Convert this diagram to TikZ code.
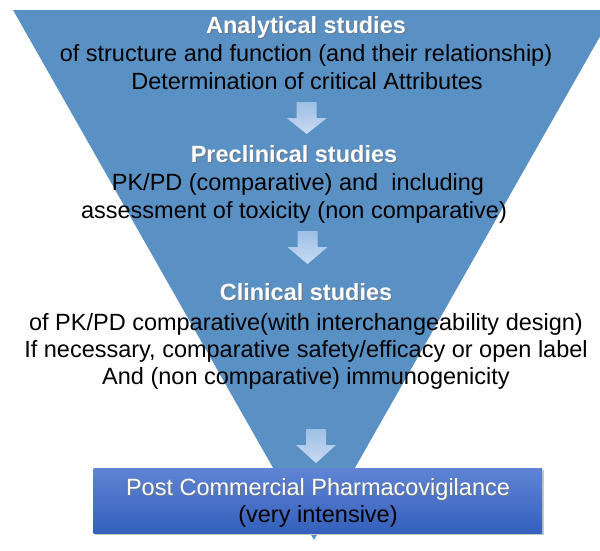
\documentclass[tikz,border=0pt]{standalone}
\usepackage{fontspec}
\setmainfont{Liberation Sans}
\usetikzlibrary{shadows}
\definecolor{funnelc}{RGB}{90,145,197}
\definecolor{arrtop}{RGB}{158,191,229}
\definecolor{arrbot}{RGB}{200,218,241}
\definecolor{boxtop}{RGB}{95,132,212}
\definecolor{boxbot}{RGB}{52,96,188}
\definecolor{shadowc}{RGB}{40,60,90}
\newcommand{\shtxt}[1]{\leavevmode\rlap{\raisebox{-1.2pt}{\hspace{1.2pt}\textcolor{shadowc!70}{#1}}}\textcolor{white}{#1}}
\tikzset{
  body/.style={anchor=base, inner sep=0pt, text=black, font=\fontsize{23.5}{28}\selectfont},
  head/.style={anchor=base, inner sep=0pt, font=\fontsize{23.5}{28}\selectfont\bfseries},
  boxtxt/.style={anchor=base, inner sep=0pt, font=\fontsize{23.5}{28}\selectfont},
}
\newcommand{\blockarrow}[3]{% center x, top y, tip y
  \shade[top color=arrtop, bottom color=arrbot]
    (#1-10,#2) -- (#1+10,#2) -- (#1+10,#2+16) -- (#1+20,#2+16) -- (#1,#3)
    -- (#1-20,#2+16) -- (#1-10,#2+16) -- cycle;}
\begin{document}
\begin{tikzpicture}[x=1pt,y=-1pt]
\useasboundingbox (0,0) rectangle (600,550);
\begin{scope}
\clip (0,0) rectangle (600,550);
% funnel
\fill[funnelc] (13,10) -- (615,10) -- (314,540) -- cycle;
\end{scope}
% arrows
\blockarrow{306.7}{102}{134}
\blockarrow{307.5}{231}{264}
\blockarrow{316}{429}{463}
% block 1
\node[head] (a1) at (306,33) {\shtxt{Analytical studies}};
\node[body] (a2) at (306,61) {of structure and function (and their relationship)};
\node[body] (a3) at (307,89) {Determination of critical Attributes};
% block 2
\node[head] (b1) at (294,162) {\shtxt{Preclinical studies}};
\node[body] (b2) at (298,190) {PK/PD (comparative) and\ \ including};
\node[body] (b3) at (294,218) {assessment of toxicity (non comparative)};
% block 3
\node[head] (c1) at (306,300) {\shtxt{Clinical studies}};
\node[body] (c2) at (306,330) {of PK/PD comparative(with interchangeability design)};
\node[body] (c3) at (306,357) {If necessary, comparative safety/efficacy or open label};
\node[body] (c4) at (306,384) {And (non comparative) immunogenicity};
% bottom box
\fill[black!22] (95,470) rectangle (544,535);
\shade[top color=boxtop, bottom color=boxbot] (93.5,468) rectangle (542,533);
\node[boxtxt] (d1) at (318,495) {\shtxt{Post Commercial Pharmacovigilance}};
\node[boxtxt, text=black] (d2) at (318,522) {(very intensive)};
\end{tikzpicture}
\end{document}
